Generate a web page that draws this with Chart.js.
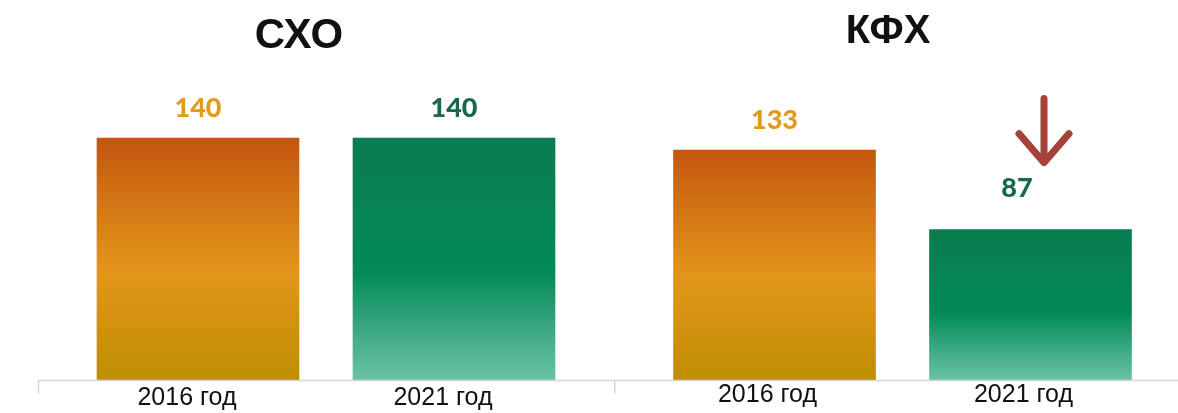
<!DOCTYPE html>
<html>
<head>
<meta charset="utf-8">
<script src="https://cdn.jsdelivr.net/npm/chart.js@4"></script>
<style>
  html, body { margin: 0; padding: 0; background: #fff; }
  #wrap { position: relative; width: 1178px; height: 413px; overflow: hidden; }
  #wrap canvas { position: absolute; top: 0; }
</style>
</head>
<body>
<div id="wrap">
  <canvas id="sho" width="614" height="413" style="left:0"></canvas>
  <canvas id="kfh" width="564" height="413" style="left:614px"></canvas>
</div>
<script>
const categories = ['2016 год', '2021 год'];
const shoValues = [140, 140];
const kfhValues = [133, 87];
const panelTitles = ['СХО', 'КФХ'];

const FONT = '"Liberation Sans", Arial, sans-serif';
const LABEL_COLORS = ['#E39B1D', '#17694A'];

// vertical gradient per bar, spans the bar itself
const ORANGE = [[0, '#C4560F'], [0.55, '#E3961A'], [1, '#BF8E00']];
const GREEN = [[0, '#0A7C50'], [0.55, '#028A58'], [1, '#6AC3A4']];

const barFill = (ctx) => {
  const { chart, dataIndex, raw } = ctx;
  const stops = dataIndex === 0 ? ORANGE : GREEN;
  if (!chart.chartArea) {
    return stops[1][1];
  }
  const y = chart.scales.y;
  const top = y.getPixelForValue(raw);
  const bottom = y.getPixelForValue(0);
  const g = chart.ctx.createLinearGradient(0, top, 0, bottom);
  stops.forEach(([p, c]) => g.addColorStop(p, c));
  return g;
};

const decorations = {
  id: 'decorations',
  afterDatasetsDraw(chart, args, opts) {
    const { ctx } = chart;
    const meta = chart.getDatasetMeta(0);
    const values = chart.data.datasets[0].data;

    ctx.save();
    // value labels
    ctx.font = '900 27px Lato, "Open Sans", sans-serif';
    ctx.textAlign = 'center';
    ctx.textBaseline = 'middle';
    meta.data.forEach((bar, i) => {
      const shift = opts.labelShift[i];
      ctx.fillStyle = LABEL_COLORS[i];
      ctx.fillText(String(values[i]), bar.x + shift[0], bar.y - shift[1]);
    });

    // panel title
    ctx.fillStyle = '#111';
    ctx.font = `bold ${opts.titleSize}px ${FONT}`;
    ctx.textBaseline = 'alphabetic';
    ctx.fillText(opts.title, opts.titleX, opts.titleY);

    // axis line + ticks
    ctx.strokeStyle = '#D6D6D6';
    ctx.lineWidth = 1.5;
    const base = Math.round(chart.scales.y.getPixelForValue(0)) + 0.5;
    ctx.beginPath();
    ctx.moveTo(opts.axisFrom, base);
    ctx.lineTo(chart.width, base);
    opts.axisTicks.forEach((x) => {
      ctx.moveTo(x, base);
      ctx.lineTo(x, base + 13);
    });
    ctx.stroke();

    // down arrow next to the dropping bar
    if (opts.arrow) {
      const bar = meta.data[opts.arrow.index];
      const ax = bar.x + 13.5;
      const tip = bar.y - 67;
      ctx.strokeStyle = '#A5433A';
      ctx.lineWidth = 7;
      ctx.lineCap = 'round';
      ctx.lineJoin = 'round';
      ctx.beginPath();
      ctx.moveTo(ax, tip - 64);
      ctx.lineTo(ax, tip - 2);
      ctx.moveTo(ax - 25, tip - 29);
      ctx.lineTo(ax, tip);
      ctx.lineTo(ax + 25, tip - 29);
      ctx.stroke();
    }
    ctx.restore();
  },
};

const makeChart = (id, values, padding, labelOffset, tickPad, deco) => new Chart(document.getElementById(id), {
  type: 'bar',
  data: {
    labels: categories,
    datasets: [{
      data: values,
      backgroundColor: barFill,
      borderWidth: 0,
      barThickness: 202,
    }],
  },
  options: {
    responsive: false,
    animation: false,
    layout: { padding },
    plugins: {
      legend: { display: false },
      title: { display: false },
      tooltip: { enabled: false },
      decorations: deco,
    },
    scales: {
      y: { display: false, min: 0, max: 200 },
      x: {
        grid: { display: false, drawTicks: false },
        border: { display: false },
        ticks: {
          color: '#111',
          font: { family: FONT, size: 25 },
          padding: tickPad,
          labelOffset,
        },
        afterFit(scale) {
          scale.height = 33;
        },
      },
    },
  },
  plugins: [decorations],
});

makeChart('sho', shoValues, { left: 70, right: 32, top: 34.3, bottom: 0 }, -11, 3, {
  title: panelTitles[0],
  titleSize: 42,
  titleX: 299,
  titleY: 48,
  labelShift: [[0, 30], [0, 30]],
  axisFrom: 38,
  axisTicks: [38.5],
  arrow: null,
});

makeChart('kfh', kfhValues, { left: 32.5, right: 19.5, top: 34.3, bottom: 0 }, -7, 0, {
  title: panelTitles[1],
  titleSize: 40,
  titleX: 274,
  titleY: 43,
  labelShift: [[0, 30], [-13.5, 41]],
  axisFrom: 0,
  axisTicks: [0.75],
  arrow: { index: 1 },
});
</script>
</body>
</html>
